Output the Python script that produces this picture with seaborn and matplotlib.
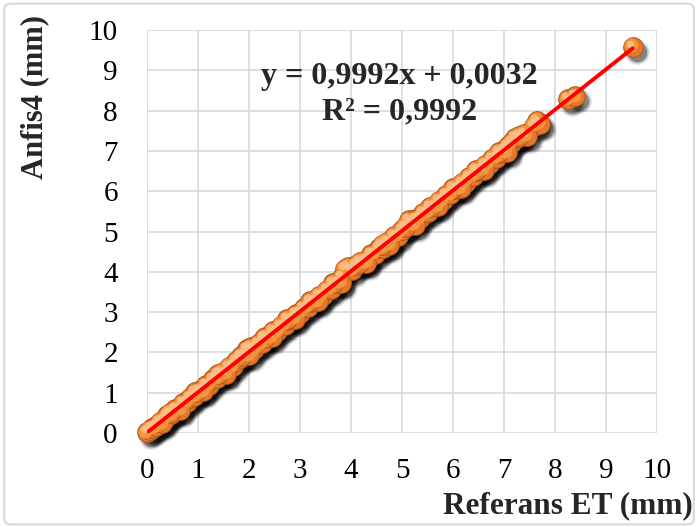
import numpy as np
import matplotlib
matplotlib.use("Agg")
import matplotlib.pyplot as plt
import matplotlib.transforms as mtransforms
from matplotlib.patches import FancyBboxPatch
import seaborn as sns

sns.set_style("white")
plt.rcParams["font.family"] = ["Liberation Serif", "DejaVu Serif"]

# Referans ET (mm)
ref_et = [0.00, 0.05, 0.10, 0.18, 0.25, 0.33, 0.40, 0.48, 0.55, 0.62,
          0.70, 0.78, 0.85, 0.93, 1.00, 1.08, 1.15, 1.22, 1.30, 1.38,
          1.45, 1.52, 1.60, 1.68, 1.75, 1.82, 1.90, 1.97, 2.03, 2.10,
          2.18, 2.25, 2.32, 2.40, 2.47, 2.55, 2.62, 2.70, 2.77, 2.85,
          2.92, 3.00, 3.07, 3.15, 3.22, 3.30, 3.37, 3.45, 3.52, 3.60,
          3.67, 3.75, 3.82, 3.88, 3.95, 4.02, 4.10, 4.17, 4.25, 4.32,
          4.40, 4.47, 4.55, 4.62, 4.70, 4.77, 4.85, 4.92, 5.00, 5.07,
          5.13, 5.20, 5.28, 5.35, 5.42, 5.50, 5.57, 5.65, 5.72, 5.80,
          5.87, 5.95, 6.02, 6.10, 6.17, 6.25, 6.32, 6.40, 6.47, 6.55,
          6.62, 6.70, 6.77, 6.85, 6.92, 7.00, 7.07, 7.15, 7.22, 7.30,
          7.40, 7.58, 7.65, 7.70, 8.25, 8.40, 9.52,
          0.30, 0.65, 1.10, 1.55, 2.00, 2.45, 2.90, 3.35, 3.80, 4.30,
          4.75, 5.25, 5.70, 6.15, 6.60, 7.05, 7.45,
          0.45, 0.95, 1.40, 1.85, 2.30, 2.75, 3.20, 3.65, 4.15, 4.60,
          5.05, 5.55, 6.00, 6.45, 6.90, 7.30]
# Anfis4 (mm)
anfis4 = [0.02, 0.08, 0.12, 0.17, 0.28, 0.31, 0.44, 0.46, 0.59, 0.60,
          0.74, 0.76, 0.88, 0.91, 1.04, 1.06, 1.19, 1.20, 1.33, 1.36,
          1.49, 1.50, 1.64, 1.66, 1.79, 1.86, 1.93, 2.08, 2.13, 2.08,
          2.21, 2.23, 2.37, 2.38, 2.53, 2.52, 2.66, 2.68, 2.81, 2.83,
          2.95, 2.98, 3.10, 3.13, 3.26, 3.28, 3.41, 3.43, 3.56, 3.58,
          3.71, 3.73, 3.86, 4.08, 4.12, 4.05, 4.16, 4.25, 4.27, 4.30,
          4.43, 4.45, 4.59, 4.60, 4.74, 4.75, 4.89, 4.90, 5.04, 5.12,
          5.28, 5.22, 5.31, 5.33, 5.46, 5.48, 5.61, 5.63, 5.76, 5.78,
          5.91, 5.93, 6.06, 6.08, 6.21, 6.23, 6.36, 6.38, 6.51, 6.53,
          6.66, 6.68, 6.81, 6.83, 6.96, 7.02, 7.12, 7.22, 7.33, 7.34,
          7.42, 7.62, 7.75, 7.68, 8.28, 8.36, 9.58,
          0.24, 0.58, 1.03, 1.47, 1.93, 2.38, 2.83, 3.27, 3.73, 4.22,
          4.67, 5.17, 5.63, 6.07, 6.53, 6.97, 7.38,
          0.50, 1.01, 1.46, 1.91, 2.36, 2.82, 3.27, 3.72, 4.22, 4.67,
          5.12, 5.62, 6.07, 6.52, 6.97, 7.38]

ticks = list(range(0, 11))
equation = "y = 0,9992x + 0,0032\nR² = 0,9992"

fig = plt.figure(figsize=(6.98, 5.27), dpi=100)
ax = fig.add_axes([0.2106, 0.1784, 0.7307, 0.7646])

# shadow + sphere look for markers
shadow = mtransforms.offset_copy(ax.transData, fig=fig, x=4, y=-5, units="dots")
for s, a in [(320, 0.10), (250, 0.18), (190, 0.30)]:
    ax.scatter(ref_et, anfis4, s=s, color="black", alpha=a, linewidths=0,
               transform=shadow, clip_on=False, zorder=2)
sns.scatterplot(x=ref_et, y=anfis4, ax=ax, s=200, color="#E5772A",
                edgecolor="#B0561A", linewidth=0.7, zorder=3, clip_on=False)
hl1 = mtransforms.offset_copy(ax.transData, fig=fig, x=-1.5, y=1.5, units="dots")
ax.scatter(ref_et, anfis4, s=100, color="#F3943F", linewidths=0,
           transform=hl1, zorder=4, clip_on=False)
hl2 = mtransforms.offset_copy(ax.transData, fig=fig, x=-3, y=3, units="dots")
ax.scatter(ref_et, anfis4, s=28, color="#FBC08A", alpha=0.9, linewidths=0,
           transform=hl2, zorder=5, clip_on=False)

# linear trend line
sns.regplot(x=ref_et, y=anfis4, ax=ax, scatter=False, ci=None,
            line_kws=dict(color="red", lw=2.8, zorder=6))

ax.set_xlim(0, 10)
ax.set_ylim(0, 10)
ax.set_xticks(ticks)
ax.set_yticks(ticks)
ax.grid(True, color="#d9d9d9", lw=1.2)
ax.set_axisbelow(True)
for sp in ax.spines.values():
    sp.set_visible(False)
ax.tick_params(axis="both", length=0, labelsize=21, colors="black")
ax.tick_params(axis="x", pad=18)
ax.tick_params(axis="y", pad=21)
ax.set_xlabel("")
ax.set_ylabel("")

ax.text(4.95, 8.4, equation, ha="center", va="center", fontsize=23,
        fontweight="bold", linespacing=1.3, zorder=7)

fig.text(0.992, 0.04, "Referans ET (mm)", ha="right", va="center",
         fontsize=22.5, fontweight="bold")
fig.text(0.05, 0.816, "Anfis4 (mm)", ha="center", va="center",
         rotation=90, fontsize=22, fontweight="bold")

border = FancyBboxPatch((0.006, 0.005), 0.988, 0.988,
                        boxstyle="round,pad=0,rounding_size=0.01",
                        transform=fig.transFigure, fill=False,
                        edgecolor="#d9d9d9", lw=1.5)
fig.patches.append(border)

fig.savefig("out.png", dpi=100)
